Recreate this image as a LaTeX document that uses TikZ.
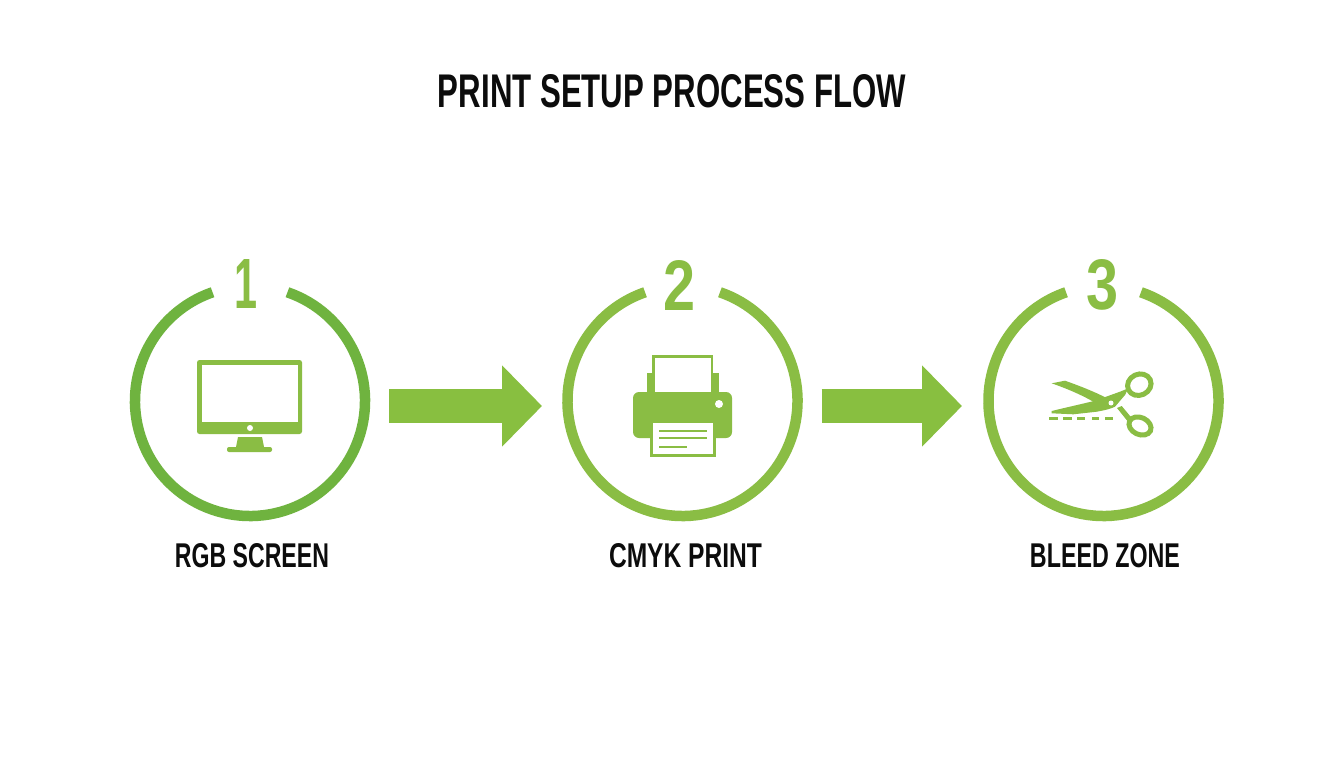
\documentclass[tikz,border=0pt]{standalone}
\usepackage{fontspec}
\setmainfont{Liberation Sans}
\usetikzlibrary{arrows.meta}
\definecolor{gr}{HTML}{8ABD44}
\definecolor{grd}{HTML}{6FB33F}
\definecolor{gra}{HTML}{88BF40}
\definecolor{ink}{HTML}{0C0C0C}
\newcommand{\fitbox}[3]{\resizebox{#1pt}{#2pt}{\bfseries #3}}
\tikzset{
  every node/.style={inner sep=0pt,outer sep=0pt},
  hub/.style={circle,minimum size=242pt},
  ring/.style={line width=10.5pt,draw=gr},
  blockarrow/.style={draw=gra,line width=33.7pt,-{Triangle[length=40pt,width=79pt,fill=gra]},shorten <=18pt},
  ico/.style={fill=gr,draw=none},
  hole/.style={fill=white,draw=none},
  rule/.style={draw=gr,line width=2.5pt},
  txt/.style={text=ink},
  num/.style={text=gr}
}
\begin{document}
\begin{tikzpicture}[x=1pt,y=-1pt]
\useasboundingbox (0,0) rectangle (1344,768);
\fill[white] (0,0) rectangle (1344,768);
\node[txt] (title) at (672,91.5) {\fitbox{468}{33}{PRINT SETUP PROCESS FLOW}};
% hubs
\node[hub] (c1) at (250,401) {};
\node[hub] (c2) at (682.5,401) {};
\node[hub] (c3) at (1103.5,401) {};
\draw[ring,draw=grd] (c1.center) ++(71:115pt) arc (71:-251:115pt);
\draw[ring] (c2.center) ++(71:115pt) arc (71:-251:115pt);
\draw[ring] (c3.center) ++(71:115pt) arc (71:-251:115pt);
\node[num] (n1) at (245.5,283.5) {\fitbox{23}{49}{1}};
\node[num] (n2) at (680,285) {\fitbox{32}{50}{2}};
\node[num] (n3) at (1102,285) {\fitbox{32}{50}{3}};
% arrows
\draw[blockarrow,shorten >=19.5pt] ([yshift=-5pt]c1.east) -- ([yshift=-5pt]c2.west);
\draw[blockarrow] ([yshift=-5pt]c2.east) -- ([xshift=-20.5pt,yshift=-5pt]c3.west);
% labels
\node[txt] (l1) at (252,556) {\fitbox{154}{24}{RGB SCREEN}};
\node[txt] (l2) at (685.5,556) {\fitbox{153}{24}{CMYK PRINT}};
\node[txt] (l3) at (1105,556) {\fitbox{150}{24}{BLEED ZONE}};
% monitor
\fill[ico,rounded corners=2.5pt] (197,360) rectangle (302,434);
\fill[hole] (202,365) rectangle (298,422);
\fill[hole] (250,428) circle (3pt);
\fill[ico] (238,437) -- (262,437) -- (264,447) -- (236,447) -- cycle;
\fill[ico,rounded corners=2pt] (227,447) rectangle (272,452);
% printer
\fill[ico] (647,373) rectangle (719,394);
\fill[ico] (652,355) rectangle (713,394);
\fill[hole] (655,358) rectangle (711,392);
\fill[ico,rounded corners=6pt] (633,392) rectangle (732,438);
\fill[hole] (719,404) circle (4pt);
\fill[ico] (650,420) rectangle (716,457);
\fill[hole] (653,423) rectangle (713,454);
\draw[rule] (659,431) -- (707,431);
\draw[rule] (659,438) -- (707,438);
\draw[rule] (659,447) -- (687,447);
% scissors
\fill[ico] (1051.7,383.3) -- (1065,380.7) .. controls (1080,386) and (1095,392) .. (1106,397.7) -- (1093.3,401.7) .. controls (1080,394) and (1065,388) .. cycle;
\fill[ico] (1051.7,411) .. controls (1068,407) and (1082,404) .. (1095,400.7) -- (1120,391.7) -- (1128.3,388.3) -- (1125,395) -- (1115,406.7) .. controls (1108,410) and (1100,411) .. (1096.7,411.7) -- (1073.3,414.3) -- (1051.7,413.3) -- cycle;
\fill[ico] (1117,408) -- (1121.7,406) -- (1132,418.3) -- (1128,421.7) -- cycle;
\fill[hole] (1111,403) circle (2.5pt);
\draw[draw=gr,line width=5pt] (1139.3,384.7) ellipse [x radius=12pt,y radius=10.5pt,rotate=25];
\draw[draw=gr,line width=5pt] (1140,426) ellipse [x radius=11.5pt,y radius=8.5pt,rotate=-25];
\draw[draw=gr,line width=3.5pt] (1049,418.3) -- (1058,418.3) (1063,418.3) -- (1072,418.3) (1077,418.3) -- (1085,418.3) (1092,418.3) -- (1099,418.3) (1105,418.3) -- (1113,418.3);
\end{tikzpicture}
\end{document}
